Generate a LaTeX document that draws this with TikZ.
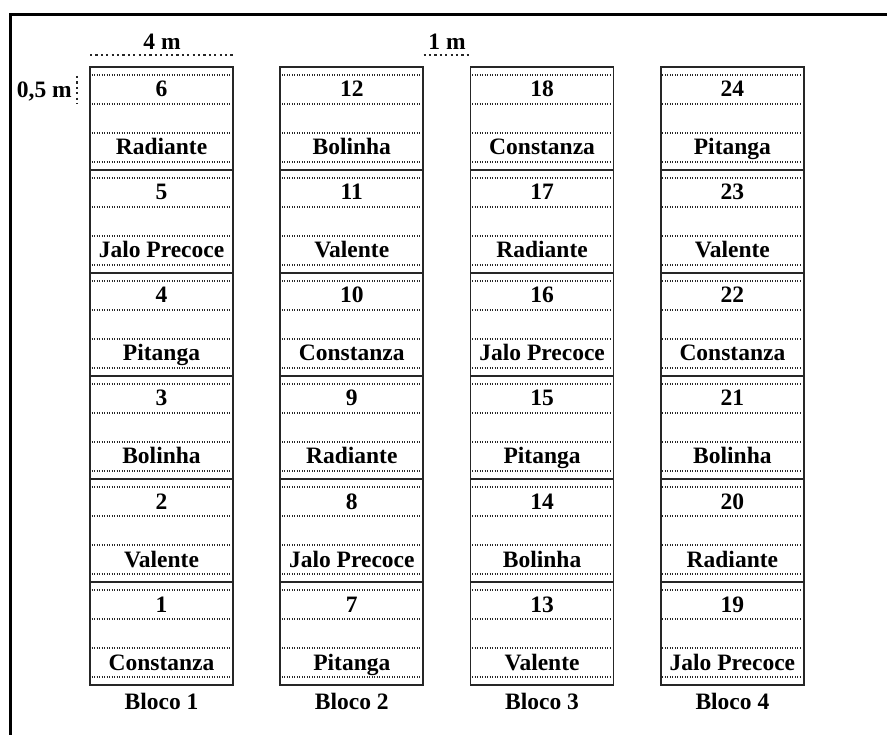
\documentclass[tikz,border=0pt]{standalone}
\usepackage{fontspec}
\setmainfont{Liberation Serif}
\newcommand\varname[1]{\ifcase#1\or Constanza\or Valente\or Bolinha\or Pitanga\or Jalo Precoce\or Radiante\or Pitanga\or Jalo Precoce\or Radiante\or Constanza\or Valente\or Bolinha\or Valente\or Bolinha\or Pitanga\or Jalo Precoce\or Radiante\or Constanza\or Jalo Precoce\or Radiante\or Bolinha\or Constanza\or Valente\or Pitanga\fi}
\begin{document}
\begin{tikzpicture}[x=1pt,y=-1pt,
  lbl/.style={font=\fontsize{23.5}{25}\selectfont\bfseries, inner sep=0pt, text height=15pt, text depth=0pt, anchor=center},
  solidln/.style={line width=1.7pt, black!85},
  dotln/.style={line width=1.1pt, black!85, dash pattern=on 1pt off 1.5pt},
  dimln/.style={line width=1.4pt, black!85, dash pattern=on 2.2pt off 3.2pt},
  frameln/.style={line width=3pt, black}]
\useasboundingbox (0,0) rectangle (887,735);
\draw[frameln] (10,735) -- (10,15) -- (887,15);
% dimension marks
\coordinate (d4a) at (90,55);
\coordinate (d4b) at (233,55);
\draw[dimln] (d4a) -- (d4b);
\node[lbl] (m4) at (162,42) {4 m};
\coordinate (d1a) at (423.5,55);
\coordinate (d1b) at (470.6,55);
\draw[dimln] (d1a) -- (d1b);
\node[lbl] (m1) at (447,42) {1 m};
\coordinate (d05a) at (77,76);
\coordinate (d05b) at (77,104);
\draw[dimln] (d05a) -- (d05b);
\node[lbl, anchor=east] (m05) at (72,90) {0,5 m};
% blocks
\foreach \bk in {1,...,4} {
  \pgfmathsetmacro\xl{90+190.3*(\bk-1)}
  \pgfmathsetmacro\xr{\xl+143}
  \pgfmathsetmacro\xc{\xl+71.5}
  \foreach \i in {0,...,5} {
    \pgfmathsetmacro\yt{67+103*\i}
    \pgfmathtruncatemacro\num{6*\bk-\i}
    \ifnum\i>0 \draw[solidln] (\xl,\yt) -- (\xr,\yt);\fi
    \foreach \o in {8,37,66,95} {
      \draw[dotln] (\xl+1.5,\yt+\o) -- (\xr-1.5,\yt+\o);
    }
    \node[lbl] (n\num) at (\xc,\yt+22.5) {\num};
    \node[lbl] (v\num) at (\xc,\yt+80.5) {\varname{\num}};
  }
  \draw[solidln] (\xl,67) rectangle (\xr,685);
  \node[lbl] (b\bk) at (\xc,702) {Bloco \bk};
}
\end{tikzpicture}
\end{document}
